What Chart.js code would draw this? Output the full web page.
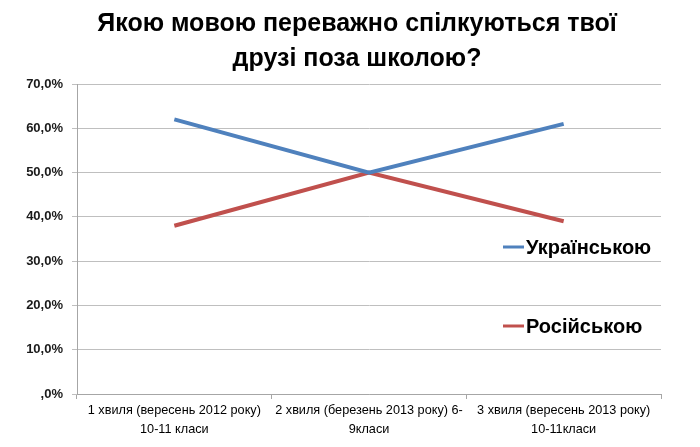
<!DOCTYPE html>
<html>
<head>
<meta charset="utf-8">
<script src="https://cdn.jsdelivr.net/npm/chart.js@4"></script>
<style>
  html, body { margin: 0; padding: 0; background: #fff; }
  #wrap { width: 700px; height: 447px; }
</style>
</head>
<body>
<div id="wrap"><canvas id="chartMova"></canvas></div>
<script>
// дані з графіка
const categories = [
  ["1 хвиля (вересень 2012 року)", "10-11 класи"],
  ["2 хвиля (березень 2013 року) 6-", "9класи"],
  ["3 хвиля (вересень 2013 року)", "10-11класи"]
];
const ukrValues = [62, 50, 61];
const rusValues = [38, 50, 39];
const seriesNames = ["Українською", "Російською"];
const yTicks = [0, 10, 20, 30, 40, 50, 60, 70];
const titleLines = ["Якою мовою переважно спілкуються твої", "друзі поза школою?"];

const blue = "#4F81BD";
const red = "#C0504D";

// заголовок трохи зміщений праворуч, як в оригіналі
const titleExcel = {
  id: "titleExcel",
  beforeDraw(chart) {
    const ctx = chart.ctx;
    ctx.save();
    ctx.fillStyle = "#000";
    ctx.font = "bold 25px 'Liberation Sans'";
    ctx.textAlign = "center";
    ctx.textBaseline = "middle";
    ctx.fillText(titleLines[0], 357, 24);
    ctx.fillText(titleLines[1], 357, 59);
    ctx.restore();
  }
};

// легенда поверх області графіка, як в Excel
const legendInside = {
  id: "legendInside",
  afterDraw(chart) {
    const ctx = chart.ctx;
    const rows = [247, 326];
    ctx.save();
    chart.data.datasets.forEach((ds, i) => {
      const y = rows[i];
      ctx.strokeStyle = ds.borderColor;
      ctx.lineWidth = 3;
      ctx.beginPath();
      ctx.moveTo(503, y);
      ctx.lineTo(524, y);
      ctx.stroke();
      ctx.fillStyle = "#000";
      ctx.font = "bold 20px 'Liberation Sans'";
      ctx.textBaseline = "middle";
      ctx.fillText(ds.label, 526, y + 1);
    });
    ctx.restore();
  }
};

new Chart(document.getElementById("chartMova"), {
  type: "line",
  data: {
    labels: categories,
    datasets: [
      {
        label: seriesNames[0],
        data: ukrValues,
        borderColor: blue,
        backgroundColor: blue,
        borderWidth: 4,
        pointRadius: 0,
        tension: 0
      },
      {
        label: seriesNames[1],
        data: rusValues,
        borderColor: red,
        backgroundColor: red,
        borderWidth: 4,
        pointRadius: 0,
        tension: 0
      }
    ]
  },
  options: {
    responsive: true,
    maintainAspectRatio: false,
    animation: false,
    layout: { padding: { left: 0, right: 39, top: 84, bottom: 0 } },
    plugins: {
      legend: { display: false },
      tooltip: { enabled: false },
      title: { display: false }
    },
    scales: {
      x: {
        offset: true,
        grid: { display: true, drawOnChartArea: false, offset: true, color: "#a6a6a6", tickLength: 5 },
        border: { display: true, color: "#a6a6a6" },
        ticks: {
          color: "#000",
          font: { family: "'Liberation Sans'", size: 12.7, lineHeight: 1.5 },
          maxRotation: 0,
          autoSkip: false,
          padding: 2
        },
        afterFit: (s) => { s.height = 53; }
      },
      y: {
        min: 0,
        max: 70,
        afterBuildTicks: (s) => { s.ticks = yTicks.map(v => ({ value: v })); },
        grid: { color: "#bfbfbf", tickLength: 5 },
        border: { display: true, color: "#a6a6a6" },
        ticks: {
          color: "#1a1a1a",
          font: { family: "'Liberation Sans'", size: 13, weight: "bold" },
          padding: 9,
          callback: (v) => v === 0 ? ",0%" : v.toFixed(1).replace(".", ",") + "%"
        },
        afterFit: (s) => { s.width = 77; }
      }
    }
  },
  plugins: [titleExcel, legendInside]
});
</script>
</body>
</html>
